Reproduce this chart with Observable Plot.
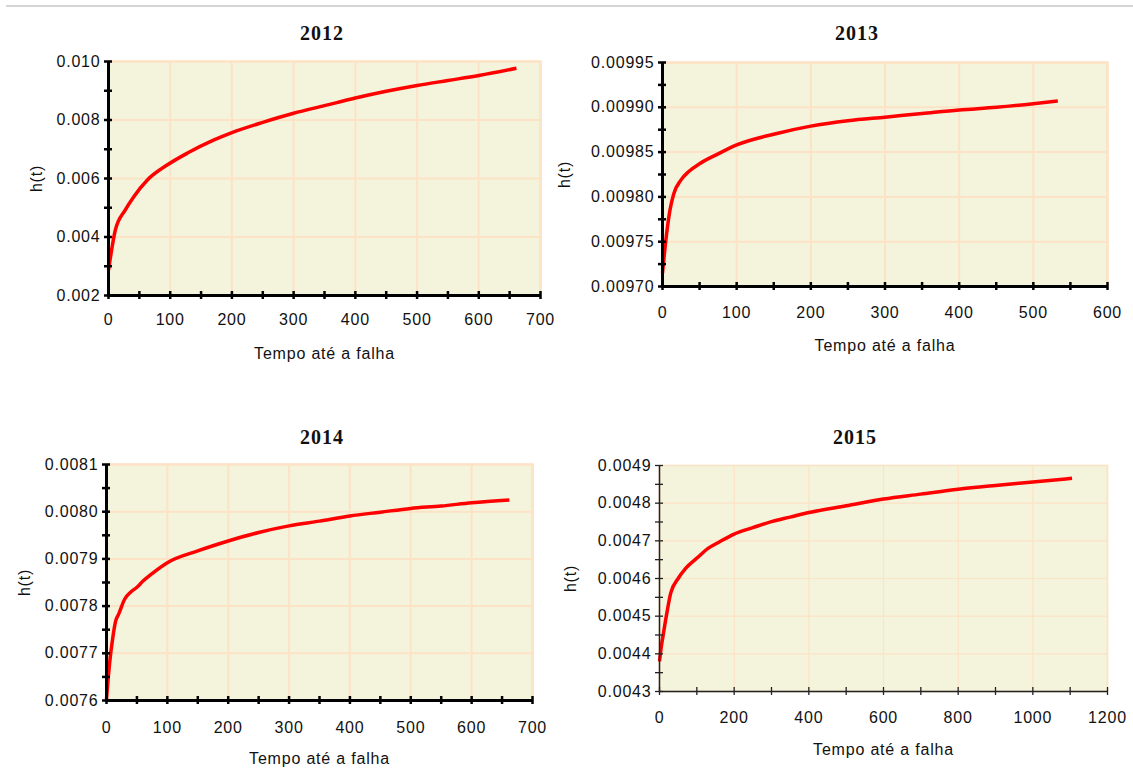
<!DOCTYPE html>
<html><head><meta charset="utf-8">
<script src="https://cdn.jsdelivr.net/npm/d3@7"></script>
<script src="https://cdn.jsdelivr.net/npm/@observablehq/plot@0.6"></script>
<style>
html,body{margin:0;padding:0;background:#fff}
body{width:1133px;height:769px;position:relative;overflow:hidden;font-family:"Liberation Sans",Arial,sans-serif}
.topline{position:absolute;left:6px;top:5px;width:1127px;height:2px;background:#d4d4d4}
.panel{position:absolute}
.panel svg text{letter-spacing:0.8px}
.title{position:absolute;width:200px;margin-left:-100px;text-align:center;font-family:"Liberation Serif","Times New Roman",serif;font-weight:bold;font-size:20px;letter-spacing:1px;color:#111;line-height:20px}
</style></head>
<body>
<div class="topline"></div>
<script>
// ---- data ----
const years = ["2012", "2013", "2014", "2015"];

const t2012 = [0, 11, 27, 41, 63, 95, 128, 171, 200, 250, 300, 350, 400, 450, 500, 550, 600, 661];
const h2012 = [0.00286, 0.00423, 0.00492, 0.00538, 0.00595, 0.00646, 0.00687, 0.00732, 0.00757, 0.00792, 0.00823, 0.00849, 0.00875, 0.00898, 0.00918, 0.00935, 0.00952, 0.00977];

const t2013 = [0, 3, 6, 10, 15, 25, 35, 50, 75, 100, 150, 200, 250, 300, 350, 400, 450, 500, 533];
const h2013 = [0.009715, 0.00974, 0.009762, 0.009785, 0.009803, 0.009819, 0.009828, 0.009837, 0.009848, 0.009858, 0.00987, 0.009879, 0.009885, 0.009889, 0.009893, 0.009897, 0.0099, 0.009904, 0.009907];

const t2014 = [0, 3, 6, 10, 15, 20, 30, 40, 50, 60, 75, 100, 150, 200, 250, 300, 350, 400, 450, 500, 550, 600, 662];
const h2014 = [0.007603, 0.00765, 0.00769, 0.00773, 0.007768, 0.007783, 0.007815, 0.00783, 0.00784, 0.007853, 0.007869, 0.007892, 0.007917, 0.007938, 0.007956, 0.00797, 0.00798, 0.007991, 0.007999, 0.008007, 0.008012, 0.008019, 0.008025];

const t2015 = [0, 5, 10, 20, 30, 50, 70, 100, 130, 160, 200, 250, 300, 350, 400, 500, 600, 700, 800, 900, 1000, 1105];
const h2015 = [0.00438, 0.00442, 0.004451, 0.00451, 0.004561, 0.0046, 0.004627, 0.004654, 0.00468, 0.004697, 0.004718, 0.004735, 0.004751, 0.004763, 0.004775, 0.004793, 0.004811, 0.004824, 0.004837, 0.004847, 0.004856, 0.004866];

// tick labels
const xTicks2012 = [0, 100, 200, 300, 400, 500, 600, 700];
const yTicks2012 = [0.002, 0.004, 0.006, 0.008, 0.010];
const xTicks2013 = [0, 100, 200, 300, 400, 500, 600];
const yTicks2013 = [0.00970, 0.00975, 0.00980, 0.00985, 0.00990, 0.00995];
const xTicks2014 = [0, 100, 200, 300, 400, 500, 600, 700];
const yTicks2014 = [0.0076, 0.0077, 0.0078, 0.0079, 0.0080, 0.0081];
const xTicks2015 = [0, 200, 400, 600, 800, 1000, 1200];
const yTicks2015 = [0.0043, 0.0044, 0.0045, 0.0046, 0.0047, 0.0048, 0.0049];

const xLabel = "Tempo até a falha";
const yLabel = "h(t)";

// ---- layout / style ----
const ML = 112, MT = 10, MR = 15, MB = 82;
const BG = "#f4f3dc", GRID = "#fde3c6";

const panels = [
  {year: years[0], t: t2012, h: h2012, xT: xTicks2012, yT: yTicks2012, xMinor: 50, yMinor: 0.001, fmt: ".3f",
   box: [108, 540, 61, 295], heavy: true, xPad: 18, yOff: 78, xOff: 63, titleX: 322, titleY: 23},
  {year: years[1], t: t2013, h: h2013, xT: xTicks2013, yT: yTicks2013, xMinor: 50, yMinor: 0.000025, fmt: ".5f",
   box: [662, 1107, 62, 286], heavy: true, xPad: 20, yOff: 104, xOff: 64, titleX: 857, titleY: 23},
  {year: years[2], t: t2014, h: h2014, xT: xTicks2014, yT: yTicks2014, xMinor: 50, yMinor: 0.00005, fmt: ".4f",
   box: [106, 532, 464, 700], heavy: true, xPad: 21, yOff: 88, xOff: 63, titleX: 322, titleY: 427},
  {year: years[3], t: t2015, h: h2015, xT: xTicks2015, yT: yTicks2015, xMinor: 100, yMinor: 0.00005, fmt: ".4f",
   box: [659, 1107, 465, 691], heavy: false, xPad: 20, yOff: 95, xOff: 63, titleX: 855, titleY: 427}
];

for (const p of panels) {
  const [x0, x1, y0, y1] = p.box;
  const xDom = [p.xT[0], p.xT[p.xT.length - 1]];
  const yDom = [p.yT[0], p.yT[p.yT.length - 1]];
  const xMinorT = d3.range(xDom[0], xDom[1] + 1e-9, p.xMinor);
  const yMinorT = d3.range(0, Math.round((yDom[1] - yDom[0]) / p.yMinor) + 1).map(i => yDom[0] + i * p.yMinor);
  const data = p.t.map((t, i) => ({t, h: p.h[i]}));
  const axW = p.heavy ? 3 : 1.5;
  const axC = p.heavy ? "#000" : "#222";
  const gW = p.heavy ? 2 : 1.2;
  const W = x1 - x0 + ML + MR, H = y1 - y0 + MT + MB;

  const chart = Plot.plot({
    width: W, height: H,
    marginLeft: ML, marginRight: MR, marginTop: MT, marginBottom: MB,
    style: {background: "transparent", maxWidth: "none", overflow: "visible", fontFamily: "'Liberation Sans', Arial, sans-serif", fontSize: "16px", color: "#111"},
    x: {domain: xDom},
    y: {domain: yDom},
    marks: [
      Plot.frame({fill: BG, stroke: GRID, strokeWidth: gW + 0.5}),
      Plot.gridX(p.xT, {stroke: GRID, strokeOpacity: 1, strokeWidth: gW}),
      Plot.gridY(p.yT, {stroke: GRID, strokeOpacity: 1, strokeWidth: gW}),
      Plot.line(data, {x: "t", y: "h", curve: "monotone-x", stroke: "#ff0000", strokeWidth: 3.5, strokeLinejoin: "round", strokeLinecap: "butt"}),
      Plot.ruleX([xDom[0]], {stroke: axC, strokeWidth: axW}),
      Plot.ruleY([yDom[0]], {stroke: axC, strokeWidth: axW}),
      // minor/major tick marks crossing the axis lines
      Plot.axisY(yMinorT, {tickSize: 8, dx: 4, stroke: axC, strokeWidth: p.heavy ? 2.5 : 1.3, fill: "none", label: null}),
      Plot.axisX(xMinorT, {tickSize: 8, dy: -4, stroke: axC, strokeWidth: p.heavy ? 2.5 : 1.3, fill: "none", label: null}),
      // tick labels and axis titles
      Plot.axisY(p.yT, {tickSize: 0, tickPadding: 8, tickFormat: d3.format(p.fmt), fill: "#111", fontSize: 16,
        label: yLabel, labelAnchor: "center", labelArrow: "none", labelOffset: p.yOff}),
      Plot.axisX(p.xT, {tickSize: 0, tickPadding: p.xPad, tickFormat: d3.format("d"), fill: "#111", fontSize: 16,
        label: xLabel, labelAnchor: "center", labelArrow: "none", labelOffset: p.xOff})
    ]
  });

  const div = document.createElement("div");
  div.className = "panel";
  div.style.left = (x0 - ML) + "px";
  div.style.top = (y0 - MT) + "px";
  div.style.width = W + "px";
  div.style.height = H + "px";
  div.appendChild(chart);
  document.body.appendChild(div);

  const title = document.createElement("div");
  title.className = "title";
  title.style.left = p.titleX + "px";
  title.style.top = p.titleY + "px";
  title.textContent = p.year;
  document.body.appendChild(title);
}
</script>
</body></html>
